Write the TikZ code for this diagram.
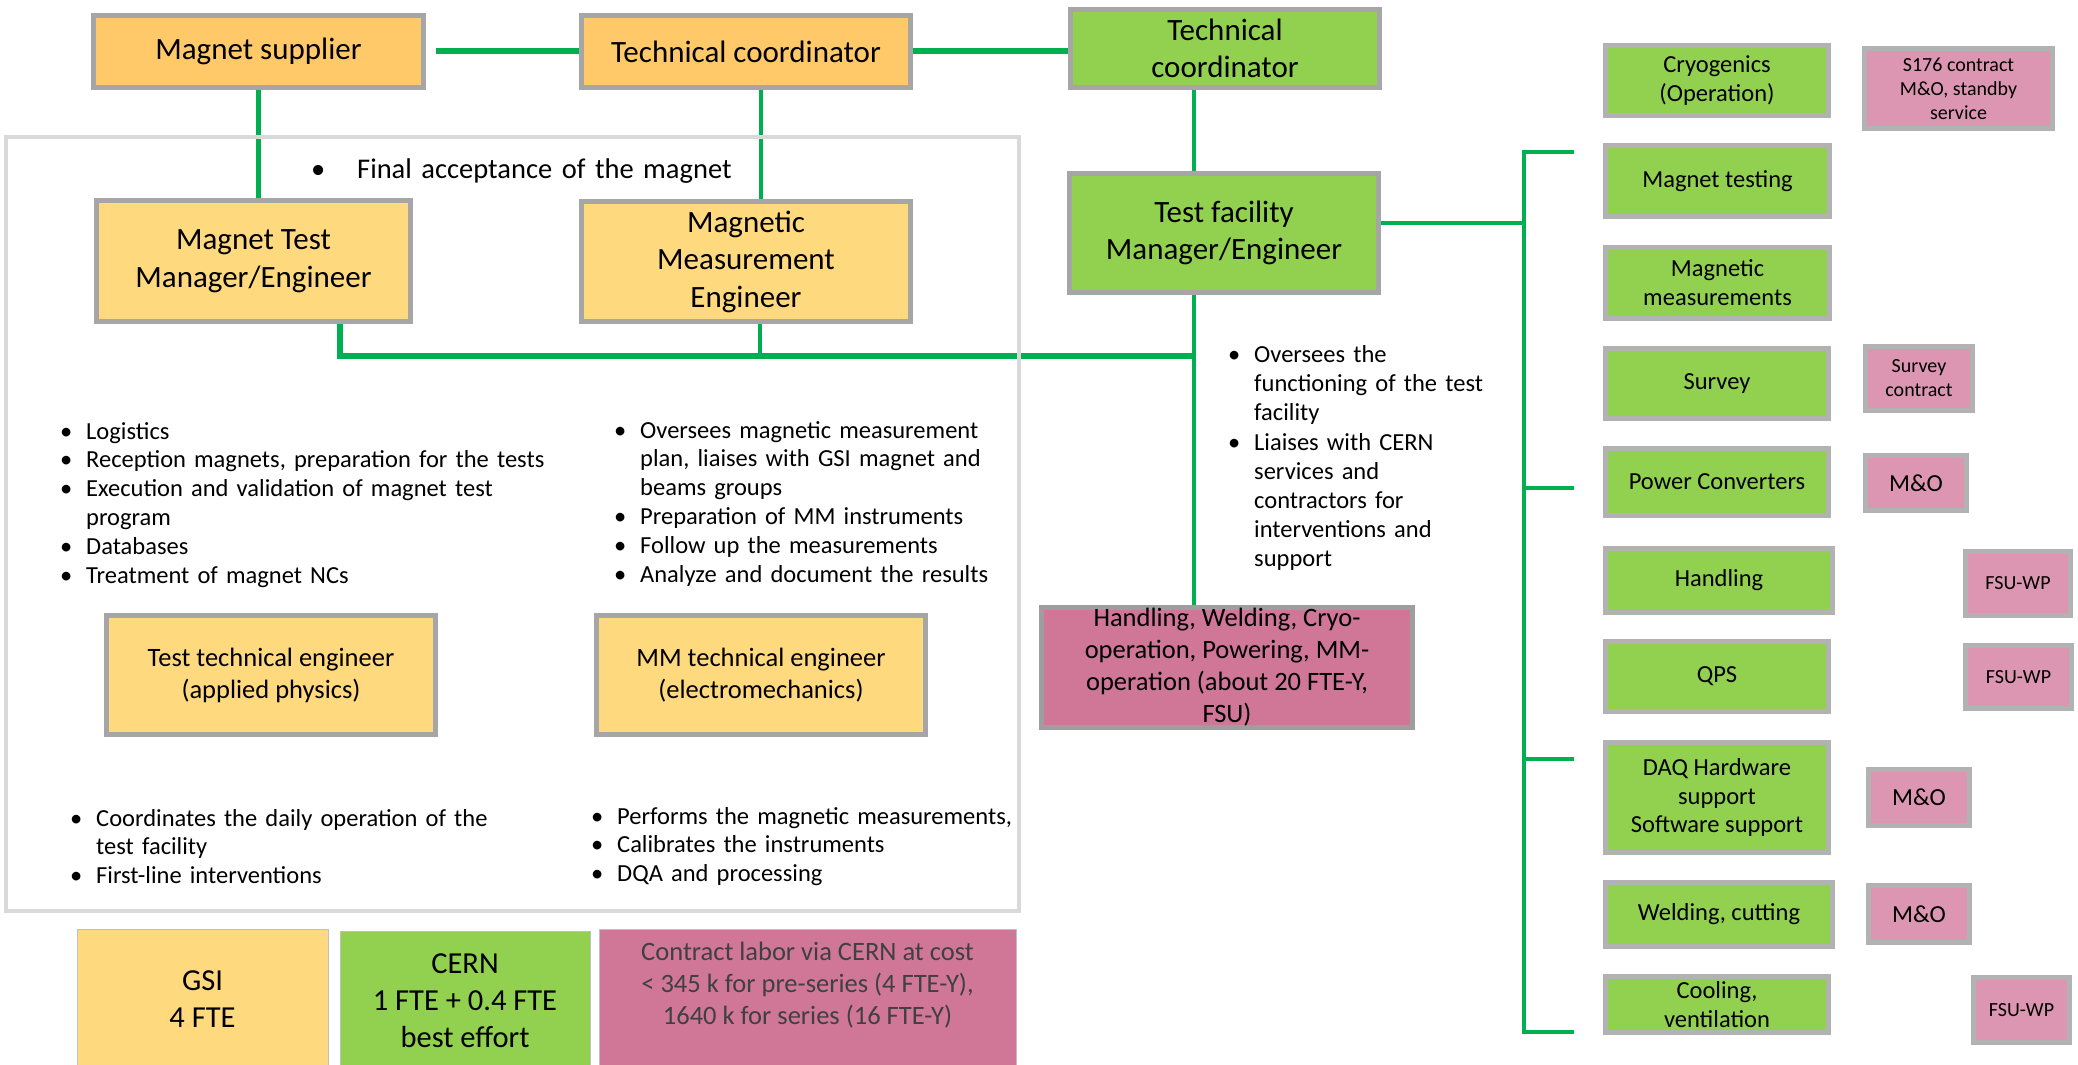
\documentclass[tikz,border=0pt]{standalone}
\usepackage{fontspec}
\setmainfont{Carlito}
\usepackage{tikz}
\usetikzlibrary{calc,positioning}
\definecolor{mgOrange}{RGB}{255,200,105}
\definecolor{mgYellow}{RGB}{255,217,125}
\definecolor{mgGreen}{RGB}{146,208,80}
\definecolor{mgRose}{RGB}{208,118,150}
\definecolor{mgPink}{RGB}{221,150,178}
\definecolor{mgLine}{RGB}{0,176,80}
\definecolor{mgBorder}{RGB}{166,166,166}
\definecolor{mgBorderLt}{RGB}{178,178,178}
\definecolor{mgFrame}{RGB}{217,217,217}
\definecolor{mgLegend}{RGB}{191,191,191}
\definecolor{mggray}{RGB}{64,64,64}
\newcommand\szBox{\fontsize{31}{37.5}\selectfont}
\newcommand\szHead{\fontsize{28.5}{34}\selectfont}
\newcommand\szSub{\fontsize{26.5}{32}\selectfont}
\newcommand\szList{\fontsize{24.5}{28.8}\selectfont}
\newcommand\szSmall{\fontsize{20}{24}\selectfont}
\newcommand\szLeg{\fontsize{30.5}{37}\selectfont}
\hyphenpenalty=10000
\newlength\bpind
\newcommand\bpoint[2][26pt]{\par\setlength\bpind{#1}\hangindent\bpind\hangafter1\noindent\makebox[\bpind][l]{\textbullet}#2\par}

\begin{document}
\begin{tikzpicture}[x=1pt,y=-1pt,
  sz/.style 2 args={minimum width=#1pt, minimum height=#2pt},
  box/.style={draw=mgBorder, line width=5pt, align=center, inner sep=0pt, font=\szBox},
  rbox/.style={draw=mgBorderLt, line width=5pt, align=center, inner sep=0pt, font=\szList},
  legbox/.style={draw=mgLegend, line width=0.75pt, align=center, inner sep=0pt, font=\szLeg},
  blist/.style={anchor=north west, inner sep=0pt, text width=#1, align=left, font=\szList},
  link/.style={mgLine, line width=4.5pt},
  bar/.style={mgLine, line width=6pt},
  frame/.style={mgFrame, line width=4.5pt}]
\fill[white] (0,0) rectangle (2078,1065);
\useasboundingbox (0,0) rectangle (2078,1065);

% GSI side
\node[box, fill=mgOrange, sz={330}{72}] (sup) at (258.5,51.5) {Magnet supplier};
\node[box, fill=mgOrange, sz={329}{72}] (tcg) at (746,51.5) {Technical coordinator};
\node[box, fill=mgYellow, sz={314}{121}] (mtm) at (253.5,261) {Magnet Test\\Manager/Engineer};
\node[box, fill=mgYellow, sz={329}{120}] (mme) at (746,261.5) {Magnetic\\Measurement\\Engineer};
\node[box, fill=mgYellow, font=\szSub, sz={329}{119}] (tte) at (271,675) {Test technical engineer\\(applied physics)};
\node[box, fill=mgYellow, font=\szSub, sz={329}{119}] (mmt) at (761,675) {MM technical engineer\\(electromechanics)};

\node[blist=520pt, font=\szHead] (fin) at (311,144) {\bpoint[46pt]{Final acceptance of the magnet}};
\node[blist=540pt] (mtmList) at (60,410) {%
  \bpoint{Logistics}
  \bpoint{Reception magnets, preparation for the tests}
  \bpoint{Execution and validation of magnet test\newline program}
  \bpoint{Databases}
  \bpoint{Treatment of magnet NCs}};
\node[blist=480pt] (mmeList) at (614,409) {%
  \bpoint{Oversees magnetic measurement\newline plan, liaises with GSI magnet and\newline beams groups}
  \bpoint{Preparation of MM instruments}
  \bpoint{Follow up the measurements}
  \bpoint{Analyze and document the results}};
\node[blist=500pt] (tteList) at (70,797) {%
  \bpoint{Coordinates the daily operation of the\newline test facility}
  \bpoint{First-line interventions}};
\node[blist=480pt] (mmtList) at (591,795) {%
  \bpoint{Performs the magnetic measurements,}
  \bpoint{Calibrates the instruments}
  \bpoint{DQA and processing}};

% CERN side
\node[box, fill=mgGreen, sz={309}{78}] (tcc) at (1225,48.5) {Technical\\coordinator};
\node[box, fill=mgGreen, sz={309}{119}] (tfm) at (1224,233) {Test facility\\Manager/Engineer};
\node[box, draw=mgBorder!95!black, fill=mgRose, font=\szSub, sz={371}{120}] (hwc) at (1227,667.5)
  {Handling, Welding, Cryo-\\operation, Powering, MM-\\operation (about 20 FTE-Y,\\FSU)};
\node[blist=300pt, font=\fontsize{24.5}{29.2}\selectfont] (tfmList) at (1228,333) {%
  \bpoint{Oversees the\newline functioning of the test\newline facility}
  \bpoint{Liaises with CERN\newline services and\newline contractors for\newline interventions and\newline support}};

% services
\node[rbox, fill=mgGreen, sz={223}{70}] (cry) at (1717,80.5) {Cryogenics\\(Operation)};
\node[rbox, fill=mgPink, font=\szSmall, sz={188}{80}] (s176) at (1958.5,88.5) {S176 contract\\M\&O, standby\\service};
\node[rbox, fill=mgGreen, sz={224}{71}] (mgt) at (1717.5,181) {Magnet testing};
\node[rbox, fill=mgGreen, sz={224}{71}] (mgm) at (1717.5,283) {Magnetic\\measurements};
\node[rbox, fill=mgGreen, sz={223}{70}] (srv) at (1717,383.5) {Survey};
\node[rbox, fill=mgPink, font=\szSmall, sz={107}{64}] (srvc) at (1919,378.5) {Survey\\contract};
\node[rbox, fill=mgGreen, sz={223}{67}] (pwc) at (1717,482) {Power Converters};
\node[rbox, fill=mgPink, sz={101}{55}] (mo1) at (1916,483) {M\&O};
\node[rbox, fill=mgGreen, sz={227}{64}] (hdl) at (1719,580.5) {Handling};
\node[rbox, fill=mgPink, font=\szSmall, sz={105}{64}] (fsu1) at (2018,583.5) {FSU-WP};
\node[rbox, fill=mgGreen, sz={223}{70}] (qps) at (1717,676.5) {QPS};
\node[rbox, fill=mgPink, font=\szSmall, sz={106}{63}] (fsu2) at (2018.5,677) {FSU-WP};
\node[rbox, fill=mgGreen, sz={223}{110}] (daq) at (1717,797.5) {DAQ Hardware\\support\\Software support};
\node[rbox, fill=mgPink, sz={101}{56}] (mo2) at (1919,797.5) {M\&O};
\node[rbox, fill=mgGreen, sz={227}{64}] (wld) at (1719,914.5) {Welding, cutting};
\node[rbox, fill=mgPink, sz={101}{57}] (mo3) at (1919,914) {M\&O};
\node[rbox, fill=mgGreen, sz={223}{56}] (col) at (1717,1004.5) {Cooling,\\ventilation};
\node[rbox, fill=mgPink, font=\szSmall, sz={96}{65}] (fsu3) at (2021.5,1010) {FSU-WP};

% legend
\node[legbox, fill=mgYellow, sz={251}{141}] (gsi) at (202.5,999.5) {GSI\\4 FTE};
\node[legbox, fill=mgGreen, sz={250}{139}] (cern) at (465,1000.5) {CERN\\1 FTE + 0.4 FTE\\best effort};
\node[legbox, fill=mgRose, sz={417}{141},
  label={[anchor=north, yshift=-13pt, inner sep=0pt, align=center, font=\szSub, text=mggray]north:Contract labor via CERN at cost\\< 345 k for pre-series (4 FTE-Y),\\1640 k for series (16 FTE-Y)}]
  (cost) at (807.5,999.5) {};

% links
\coordinate (hub) at (1194,356);
\draw[bar] ([xshift=10pt]sup.east) -- (tcg.west);
\draw[bar] (tcg.east) -- (tcg.east -| tcc.west);
\draw[link] (sup.south) -- (sup.south |- mtm.north);
\draw[link] ([xshift=15pt]tcg.south) -- ([xshift=15pt]tcg.south |- mme.north);
\draw[link] (tcc.south -| hub) -- (tfm.north -| hub);
\draw[link] (tfm.south -| hub) -- (hwc.north -| hub);
\draw[bar] ([xshift=86.5pt]mtm.south) |- (hub);
\draw[link] ([xshift=14pt]mme.south) -- ([xshift=14pt]mme.south |- hub);

\coordinate (spT) at (1524,152);
\coordinate (spB) at (1524,1032);
\coordinate (tkA) at (1574,152);
\coordinate (tkB) at (1574,488);
\coordinate (tkC) at (1574,759);
\coordinate (tkD) at (1574,1032);
\draw[link] (tkA) -- (spT) -- (spB) -- (tkD);
\draw[link] (spT |- tkB) -- (tkB);
\draw[link] (spT |- tkC) -- (tkC);
\draw[link] ([yshift=10pt]tfm.east) -- ([yshift=10pt]tfm.east -| spT);

\draw[frame] (6,137) rectangle (1019,911);
\end{tikzpicture}
\end{document}
